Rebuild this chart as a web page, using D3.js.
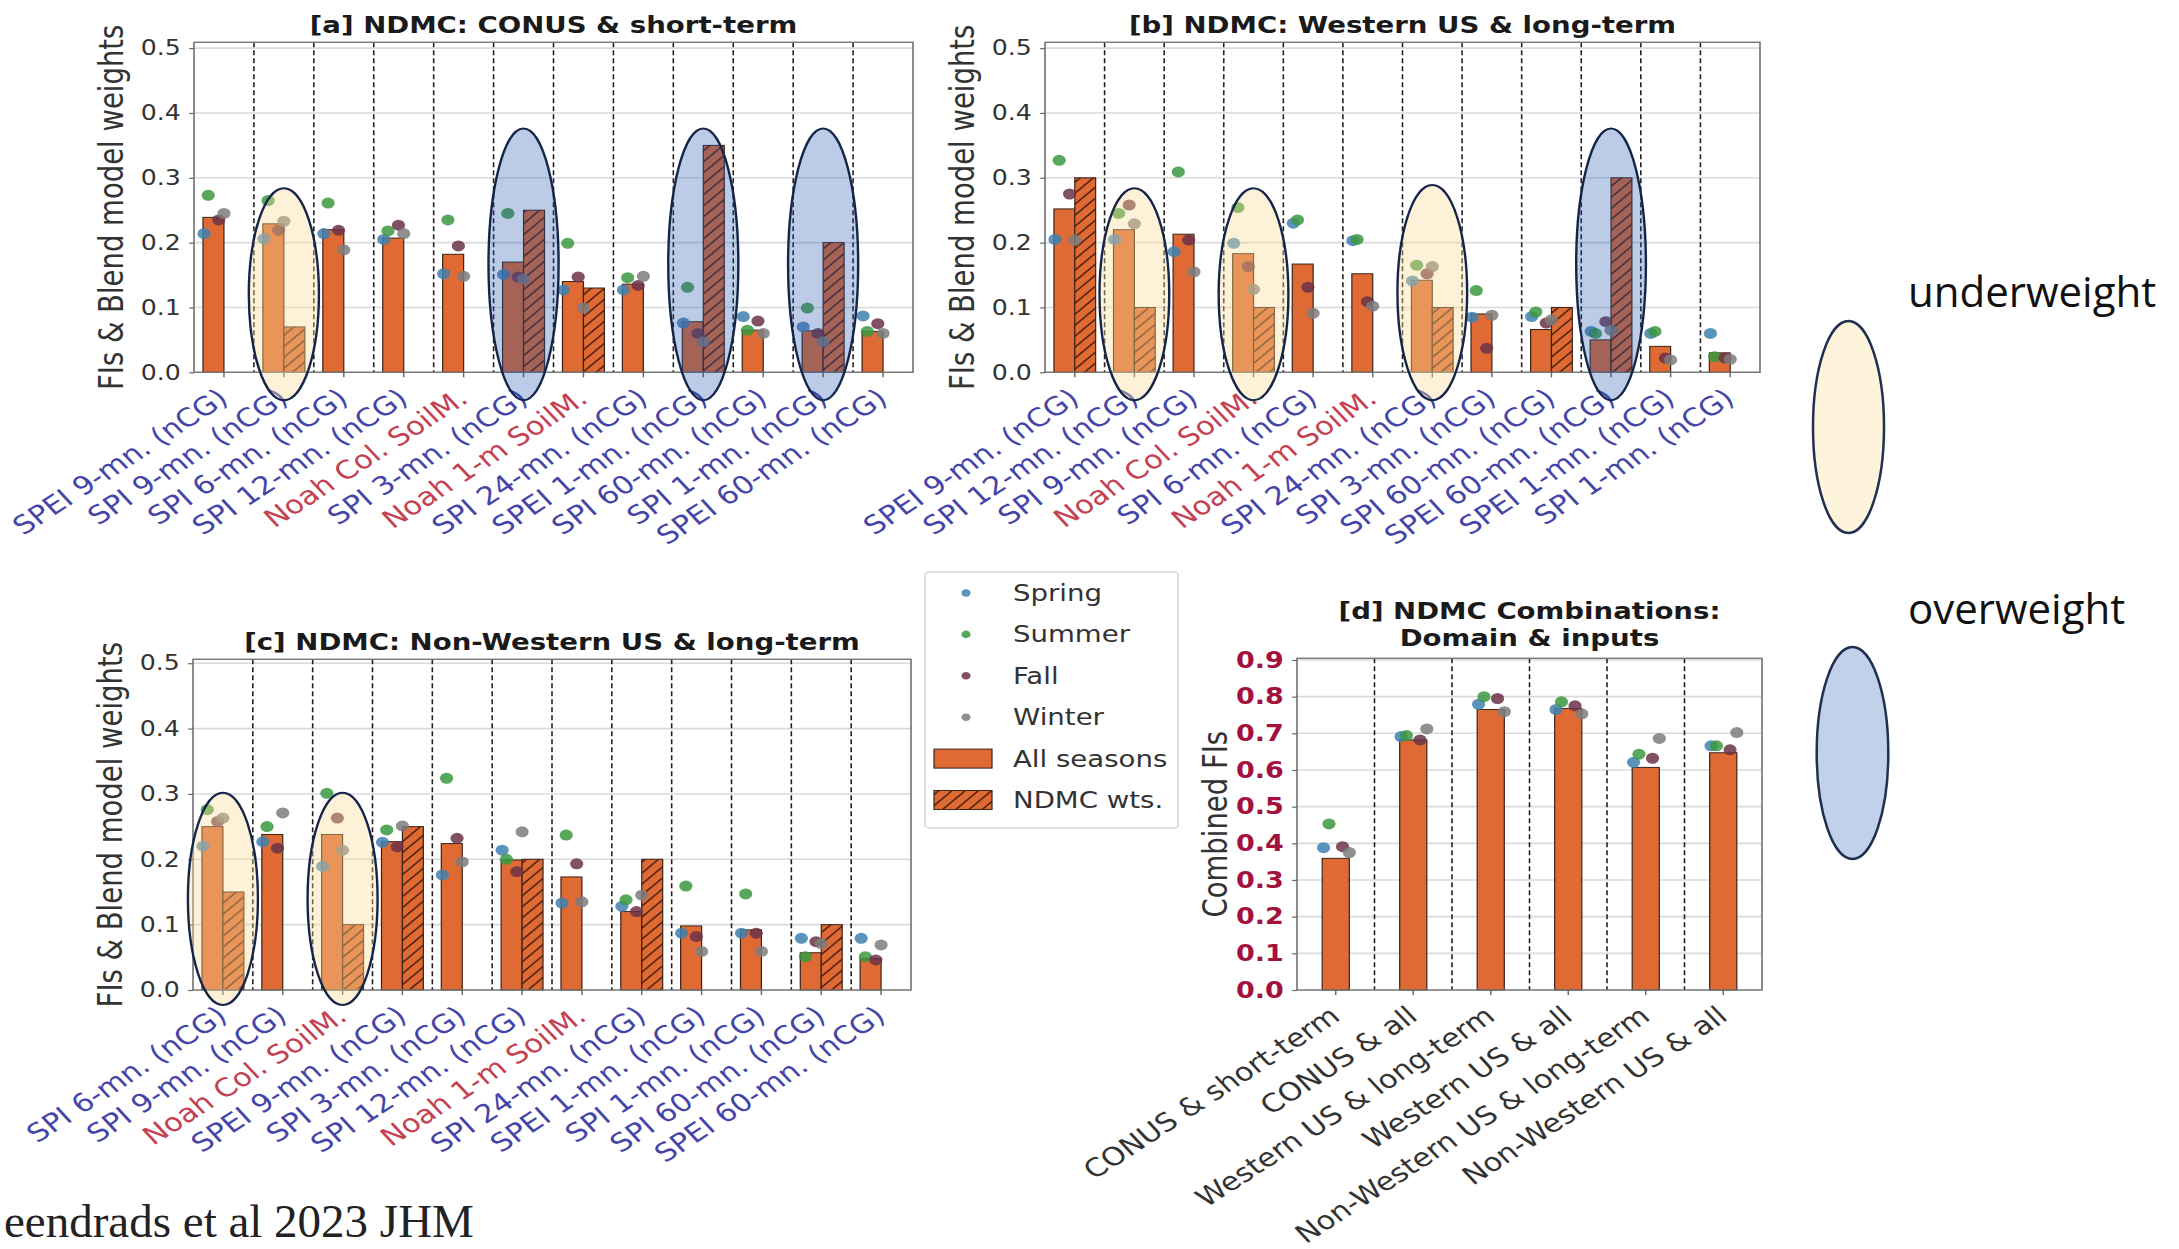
<!DOCTYPE html>
<html><head><meta charset="utf-8">
<script src="https://cdn.jsdelivr.net/npm/d3@7"></script>
<style>body{margin:0;background:#fff;} svg{display:block;}</style>
</head><body>
<script>
// ---------------- DATA ----------------
const seasons = ["Spring","Summer","Fall","Winter"];
const yTicksW = [0.0,0.1,0.2,0.3,0.4,0.5];
const yTicksD = [0.0,0.1,0.2,0.3,0.4,0.5,0.6,0.7,0.8,0.9];

const catsA = ["SPEI 9-mn. (nCG)","SPI 9-mn. (nCG)","SPI 6-mn. (nCG)","SPI 12-mn. (nCG)","Noah Col. SoilM.","SPI 3-mn. (nCG)","Noah 1-m SoilM.","SPI 24-mn. (nCG)","SPEI 1-mn. (nCG)","SPI 60-mn. (nCG)","SPI 1-mn. (nCG)","SPEI 60-mn. (nCG)"];
const allA    = [0.239,0.229,0.220,0.207,0.182,0.170,0.140,0.136,0.078,0.065,0.064,0.063];
const ndmcA   = [null,0.07,null,null,null,0.25,0.13,null,0.35,null,0.20,null];
const springA = [0.214,0.206,0.214,0.205,0.152,0.151,0.127,0.127,0.076,0.086,0.070,0.087];
const summerA = [0.273,0.265,0.261,0.218,0.235,0.245,0.199,0.146,0.131,0.065,0.099,0.063];
const fallA   = [0.235,0.219,0.219,0.227,0.195,0.147,0.147,0.134,0.060,0.079,0.060,0.075];
const winterA = [0.245,0.233,0.189,0.214,0.148,0.144,0.099,0.148,0.047,0.060,0.047,0.060];

const catsB = ["SPEI 9-mn. (nCG)","SPI 12-mn. (nCG)","SPI 9-mn. (nCG)","Noah Col. SoilM.","SPI 6-mn. (nCG)","Noah 1-m SoilM.","SPI 24-mn. (nCG)","SPI 3-mn. (nCG)","SPI 60-mn. (nCG)","SPEI 60-mn. (nCG)","SPEI 1-mn. (nCG)","SPI 1-mn. (nCG)"];
const allB    = [0.252,0.220,0.213,0.183,0.167,0.152,0.142,0.090,0.066,0.050,0.040,0.030];
const ndmcB   = [0.30,0.10,null,0.10,null,null,0.10,null,0.10,0.30,null,null];
const springB = [0.205,0.205,0.186,0.199,0.230,0.203,0.141,0.085,0.086,0.063,0.060,0.060];
const summerB = [0.327,0.245,0.309,0.254,0.235,0.205,0.165,0.126,0.093,0.060,0.063,0.024];
const fallB   = [0.275,0.258,0.204,0.163,0.131,0.109,0.152,0.037,0.076,0.078,0.022,0.022];
const winterB = [0.204,0.229,0.155,0.128,0.091,0.102,0.163,0.088,0.081,0.065,0.019,0.020];

const catsC = ["SPI 6-mn. (nCG)","SPI 9-mn. (nCG)","Noah Col. SoilM.","SPEI 9-mn. (nCG)","SPI 3-mn. (nCG)","SPI 12-mn. (nCG)","Noah 1-m SoilM.","SPI 24-mn. (nCG)","SPEI 1-mn. (nCG)","SPI 1-mn. (nCG)","SPI 60-mn. (nCG)","SPEI 60-mn. (nCG)"];
const allC    = [0.250,0.238,0.238,0.227,0.224,0.199,0.173,0.120,0.098,0.092,0.057,0.048];
const ndmcC   = [0.15,null,0.10,0.25,null,0.20,null,0.20,null,null,0.10,null];
const springC = [0.220,0.227,0.189,0.226,0.176,0.214,0.133,0.128,0.087,0.087,0.079,0.079];
const summerC = [0.276,0.250,0.301,0.245,0.324,0.200,0.237,0.138,0.159,0.147,0.051,0.051];
const fallC   = [0.258,0.217,0.263,0.219,0.232,0.181,0.193,0.120,0.082,0.087,0.074,0.046];
const winterC = [0.263,0.271,0.214,0.251,0.196,0.242,0.135,0.145,0.059,0.059,0.071,0.069];

const catsD = ["CONUS & short-term","CONUS & all","Western US & long-term","Western US & all","Non-Western US & long-term","Non-Western US & all"];
const allD    = [0.359,0.682,0.765,0.768,0.607,0.647];
const springD = [0.388,0.691,0.779,0.765,0.621,0.666];
const summerD = [0.453,0.694,0.800,0.786,0.643,0.666];
const fallD   = [0.391,0.682,0.795,0.775,0.632,0.655];
const winterD = [0.375,0.712,0.759,0.753,0.686,0.702];

// highlight annotations (category index, top in data units)
const ellipsesA = [{cat:1,kind:"under",top:0.284},{cat:5,kind:"over",top:0.376},{cat:8,kind:"over",top:0.376},{cat:10,kind:"over",top:0.376}];
const ellipsesB = [{cat:1,kind:"under",top:0.284},{cat:3,kind:"under",top:0.284},{cat:6,kind:"under",top:0.289},{cat:9,kind:"over",top:0.376}];
const ellipsesC = [{cat:0,kind:"under",top:0.302},{cat:2,kind:"under",top:0.302}];

// ---------------- STYLE ----------------
const SX = 1.2; // the figure is horizontally stretched on the slide
const ORANGE = "#df6a34";
const seasonColors = ["#3f80b0","#3a983f","#6b3348","#7c7c7c"];
const seasonOff = [-0.45,-0.25,0.25,0.5];
const BLUE_LBL = "#4545a8", RED_LBL = "#c44152";
const FONT = "DejaVu Sans, sans-serif";

const W = 2179, H = 1249;
const svg = d3.select("body").append("svg").attr("width",W).attr("height",H)
  .style("font-family",FONT);
svg.append("rect").attr("width",W).attr("height",H).attr("fill","#fff");
const defs = svg.append("defs");
const pat = defs.append("pattern").attr("id","hatch").attr("patternUnits","userSpaceOnUse")
  .attr("width",11).attr("height",11);
pat.append("rect").attr("width",11).attr("height",11).attr("fill",ORANGE);
pat.append("path").attr("d","M-2,2 L2,-2 M0,11 L11,0 M9,13 L13,9")
  .attr("stroke","#4a1c0c").attr("stroke-width",1.3);

const root = svg.append("g").attr("transform",`scale(${SX},1)`);

const panels = [
  {title:["[a] NDMC: CONUS & short-term"], titleY:[33], cats:catsA, all:allA, ndmc:ndmcA,
   seas:[springA,summerA,fallA,winterA], left:194, right:913, top:42.3, bottom:372.3, ymax:0.509,
   ticks:yTicksW, ell:ellipsesA, ellBottom:-0.043, ylabel:"FIs & Blend model weights", grouped:true},
  {title:["[b] NDMC: Western US & long-term"], titleY:[33], cats:catsB, all:allB, ndmc:ndmcB,
   seas:[springB,summerB,fallB,winterB], left:1045, right:1760, top:42.3, bottom:372.3, ymax:0.509,
   ticks:yTicksW, ell:ellipsesB, ellBottom:-0.043, ylabel:"FIs & Blend model weights", grouped:true},
  {title:["[c] NDMC: Non-Western US & long-term"], titleY:[650], cats:catsC, all:allC, ndmc:ndmcC,
   seas:[springC,summerC,fallC,winterC], left:193, right:911, top:659.3, bottom:990, ymax:0.506,
   ticks:yTicksW, ell:ellipsesC, ellBottom:-0.023, ylabel:"FIs & Blend model weights", grouped:true},
  {title:["[d] NDMC Combinations:","Domain & inputs"], titleY:[619,646], cats:catsD, all:allD, ndmc:null,
   seas:[springD,summerD,fallD,winterD], left:1297, right:1762, top:658.3, bottom:990, ymax:0.9046,
   ticks:yTicksD, ell:[], ellBottom:0, ylabel:"Combined FIs", grouped:false, boldTicks:true}
];

panels.forEach(p => {
  const g = root.append("g");
  const L = p.left/SX, R = p.right/SX;
  const x = d3.scaleBand().domain(d3.range(p.cats.length)).range([L,R]);
  const bw = x.bandwidth();
  const y = d3.scaleLinear().domain([0,p.ymax]).range([p.bottom,p.top]);
  const w = 0.35*bw;
  const allCx = i => x(i) + bw/2 - (p.grouped ? w/2 : 0);

  // grid
  g.selectAll(".grid").data(p.ticks).join("line")
    .attr("x1",L).attr("x2",R).attr("y1",d=>y(d)).attr("y2",d=>y(d))
    .attr("stroke","#dadada").attr("stroke-width",1.6);
  // dividers
  g.selectAll(".div").data(d3.range(1,p.cats.length)).join("line")
    .attr("x1",d=>x(d)).attr("x2",d=>x(d)).attr("y1",p.top).attr("y2",p.bottom)
    .attr("stroke","#1e1e1e").attr("stroke-width",1.3).attr("stroke-dasharray","5,3");
  // all-season bars
  g.selectAll(".bar").data(p.all).join("rect")
    .attr("x",(d,i)=>allCx(i)-w/2).attr("width",w)
    .attr("y",d=>y(d)).attr("height",d=>y(0)-y(d))
    .attr("fill",ORANGE).attr("stroke","#3a2418").attr("stroke-width",1);
  // NDMC bars
  if (p.ndmc) {
    const nd = p.ndmc.map((v,i)=>({v,i})).filter(d=>d.v!==null);
    g.selectAll(".nbar").data(nd).join("rect")
      .attr("x",d=>x(d.i)+bw/2).attr("width",w)
      .attr("y",d=>y(d.v)).attr("height",d=>y(0)-y(d.v))
      .attr("fill","url(#hatch)").attr("stroke","#3a2418").attr("stroke-width",1);
  }
  // season dots
  p.seas.forEach((arr,si) => {
    g.selectAll(".dot"+si).data(arr).join("circle")
      .attr("cx",(d,i)=>allCx(i)+seasonOff[si]*w)
      .attr("cy",d=>y(d)).attr("r",5.5)
      .attr("fill",seasonColors[si]).attr("fill-opacity",0.85);
  });
  // frame
  g.append("rect").attr("x",L).attr("y",p.top).attr("width",R-L).attr("height",p.bottom-p.top)
    .attr("fill","none").attr("stroke","#777").attr("stroke-width",1.4);

  // y axis
  const ya = g.append("g").attr("transform",`translate(${L},0)`)
    .call(d3.axisLeft(y).tickValues(p.ticks).tickFormat(d3.format(".1f")).tickSize(4).tickPadding(7));
  ya.select(".domain").remove();
  ya.selectAll(".tick line").attr("stroke","#666").attr("stroke-width",1.2);
  ya.selectAll(".tick text").attr("font-family",FONT)
    .attr("font-size",p.boldTicks?22.5:21)
    .attr("font-weight",p.boldTicks?"bold":"normal")
    .attr("fill",p.boldTicks?"#a3123f":"#333");

  // x axis
  const xa = g.append("g").attr("transform",`translate(0,${p.bottom})`)
    .call(d3.axisBottom(x).tickFormat(i=>p.cats[i]).tickSize(5));
  xa.select(".domain").remove();
  xa.selectAll(".tick line").attr("stroke","#666").attr("stroke-width",1.2);
  xa.selectAll(".tick text")
    .attr("font-family",FONT).attr("font-size",25.4)
    .attr("text-anchor","end").attr("x",0).attr("y",0).attr("dy",null)
    .attr("transform","translate(5,29) rotate(-38)")
    .attr("fill",i=> p.grouped ? (p.cats[i].startsWith("Noah") ? RED_LBL : BLUE_LBL) : "#333");

  // titles
  p.title.forEach((t,k)=>{
    g.append("text").attr("x",(L+R)/2).attr("y",p.titleY[k]).attr("text-anchor","middle")
      .attr("font-size",23).attr("font-weight","bold").attr("fill","#1a1a1a").text(t);
  });
  // y label
  const ylx = (p.left - (p.grouped?71:70))/SX, yly = (p.top+p.bottom)/2;
  g.append("text").attr("transform",`translate(${ylx},${yly}) rotate(-90)`)
    .attr("text-anchor","middle").attr("font-size",27.5).attr("fill","#333").text(p.ylabel);

  // highlight ellipses
  g.selectAll(".ell").data(p.ell).join("ellipse")
    .attr("cx",d=>x(d.cat)+bw/2)
    .attr("cy",d=>(y(d.top)+y(p.ellBottom))/2)
    .attr("rx",0.585*bw)
    .attr("ry",d=>(y(p.ellBottom)-y(d.top))/2)
    .attr("fill",d=>d.kind==="under"?"#fadd96":"#2052ac")
    .attr("fill-opacity",d=>d.kind==="under"?0.38:0.3)
    .attr("stroke","#15254a").attr("stroke-width",2);
});

// legend
const lg = root.append("g");
const lx0 = 925/SX, lx1 = 1178/SX;
lg.append("rect").attr("x",lx0).attr("y",572).attr("width",lx1-lx0).attr("height",256)
  .attr("rx",3).attr("fill","#fff").attr("stroke","#d8d8d8").attr("stroke-width",1.4);
const legendItems = seasons.concat(["All seasons","NDMC wts."]);
legendItems.forEach((name,k)=>{
  const cy = 593 + k*41.4;
  if (k<4) {
    lg.append("circle").attr("cx",966/SX).attr("cy",cy).attr("r",3.8)
      .attr("fill",seasonColors[k]).attr("fill-opacity",0.85);
  } else {
    lg.append("rect").attr("x",934/SX).attr("y",cy-9.5).attr("width",58/SX).attr("height",19)
      .attr("fill",k===4?ORANGE:"url(#hatch)").attr("stroke","#3a2418").attr("stroke-width",1);
  }
  lg.append("text").attr("x",1013/SX).attr("y",cy+8).attr("font-size",23).attr("fill","#333").text(name);
});

// slide annotations (not stretched)
const ann = svg.append("g");
ann.append("text").attr("x",1908).attr("y",307).attr("font-family","Open Sans, sans-serif")
  .attr("font-size",42).attr("fill","#111").text("underweight");
ann.append("text").attr("x",1908).attr("y",624).attr("font-family","Open Sans, sans-serif")
  .attr("font-size",42).attr("fill","#111").text("overweight");
ann.append("ellipse").attr("cx",1848.5).attr("cy",427).attr("rx",35.5).attr("ry",106)
  .attr("fill","#fef4dc").attr("stroke","#1f3050").attr("stroke-width",2.5);
ann.append("ellipse").attr("cx",1852.5).attr("cy",753).attr("rx",35.8).attr("ry",106)
  .attr("fill","#c2d1ea").attr("stroke","#1f3050").attr("stroke-width",2.5);
ann.append("text").attr("x",4).attr("y",1237).attr("font-family","Liberation Serif, serif")
  .attr("font-size",47).attr("fill","#222").text("eendrads et al 2023 JHM");
</script>
</body></html>
